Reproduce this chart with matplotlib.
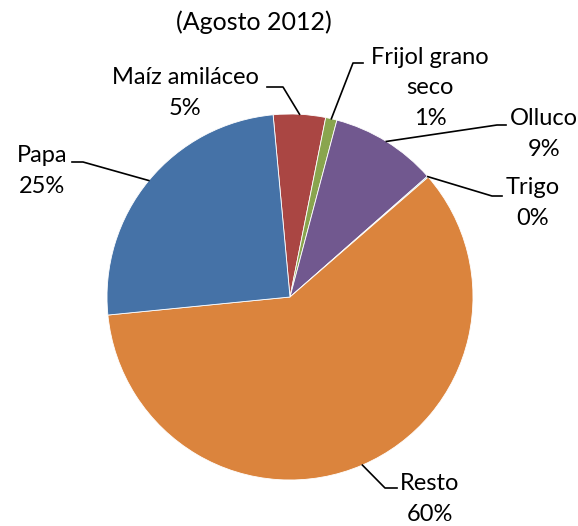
import numpy as np
import matplotlib
matplotlib.use("Agg")
import matplotlib.pyplot as plt

# =========================
# data
# =========================
categories = ["Maíz amiláceo", "Frijol grano\nseco", "Olluco", "Trigo", "Resto", "Papa"]
shares = [4.6, 1.0, 9.4, 0.1, 59.8, 25.1]
colors = ["#AA4643", "#89A54E", "#71588F", "#4198AF", "#DB843D", "#4572A7"]
title = "(Agosto 2012)"

# label layout (pixels, y down): text center, elbow, line end
text_pos = [(185, 93), (430, 88), (544, 134), (533, 203), (430, 499), (42, 171)]
elbows = [(283, 87), (353, 63), (497, 125), (492, 196), (385, 488), (83, 162)]
ends = [(267, 87), (363, 63), (506, 125), (502, 196), (397, 488), (72, 162)]

W, H = 578, 526
plt.rcParams['font.family'] = ['Lato', 'DejaVu Sans']

fig = plt.figure(figsize=(W / 100, H / 100), dpi=100)
ax = fig.add_axes([0, 0, 1, 1])

cx, cy, r = 290, H - 297, 183
wedges, _ = ax.pie(shares, colors=colors, startangle=95.3, counterclock=False,
                   center=(cx, cy), radius=r, frame=True,
                   wedgeprops=dict(edgecolor="white", linewidth=0.6))
ax.set_xlim(0, W)
ax.set_ylim(0, H)
ax.axis("off")

for w, name, val, tp, el, en in zip(wedges, categories, shares, text_pos, elbows, ends):
    mid = np.deg2rad((w.theta1 + w.theta2) / 2)
    sx, sy = cx + r * np.cos(mid), cy + r * np.sin(mid)
    ax.plot([sx, el[0], en[0]], [sy, H - el[1], H - en[1]], color="black", lw=1.2)
    ax.text(tp[0], H - tp[1], f"{name}\n{val:.0f}%", ha="center", va="center",
            fontsize=17, linespacing=1.55)

ax.text(254, H - 22, title, ha="center", va="center", fontsize=18)

fig.savefig("out.png", dpi=100)
